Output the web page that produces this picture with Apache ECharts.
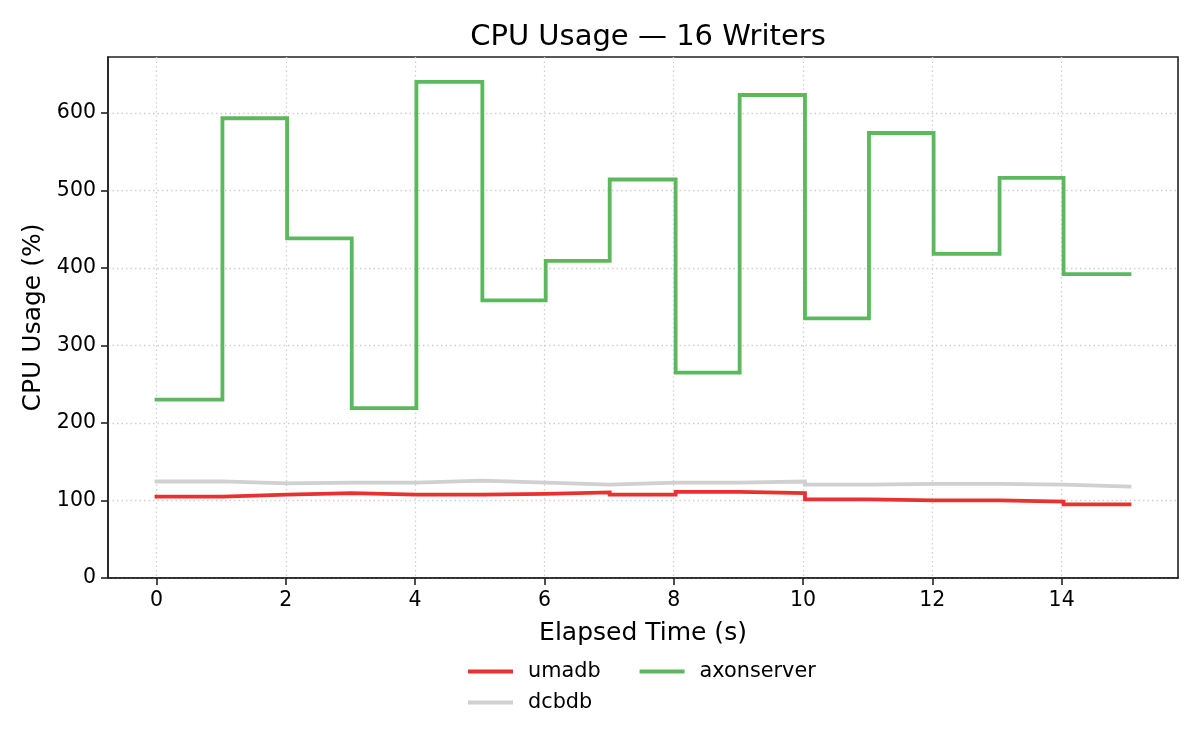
<!DOCTYPE html>
<html>
<head>
<meta charset="utf-8">
<script src="https://cdn.jsdelivr.net/npm/echarts@6/dist/echarts.min.js"></script>
<style>
  html, body { margin: 0; padding: 0; background: #fff; }
  #chart { width: 1200px; height: 750px; }
</style>
</head>
<body>
<div id="chart"></div>
<script>
// sample times (s)
var times = [0, 1.02, 2.02, 3.02, 4.02, 5.04, 6.02, 7.01, 8.03, 9.02, 10.03, 11.02, 12.02, 13.04, 14.03, 15.05];
// cpu usage (%) per store
var umadb = [105, 107.5, 109.5, 107.5, 107.5, 108.5, 110.5, 107.5, 111, 109.5, 101.5, 100, 100, 98.5, 95, 95];
var dcbdb = [124.5, 122, 123, 123, 125.5, 123, 120.5, 123, 123, 124.5, 120.5, 121.5, 121.5, 120.5, 118, 118];
var axonserver = [230, 593, 438, 219, 640, 358, 409, 514, 265, 623, 335, 574, 418, 516, 392, 392];
var xTicks = [0, 2, 4, 6, 8, 10, 12, 14];
var yTicks = [0, 100, 200, 300, 400, 500, 600];

var FONT = 'DejaVu Sans';

function pairs(vals) {
    return times.map(function (t, i) { return [t, vals[i]]; });
}
function stepSeries(name, vals, color) {
    return {
        name: name,
        type: 'line',
        step: 'end',
        showSymbol: false,
        data: pairs(vals),
        lineStyle: { color: color, width: 3.8, cap: 'square', join: 'miter' },
        itemStyle: { color: color }
    };
}

var myChart = echarts.init(document.getElementById('chart'));
var option = {
    backgroundColor: '#fff',
    animation: false,
    textStyle: { fontFamily: FONT },
    title: {
        text: 'CPU Usage — 16 Writers',
        left: 643,
        top: 18,
        textAlign: 'center',
        textStyle: { fontFamily: FONT, fontSize: 29, fontWeight: 'normal', color: '#000' }
    },
    legend: [
        {
            data: ['umadb', 'axonserver'],
            left: 468, top: 661, padding: 0,
            icon: 'rect', itemWidth: 45, itemHeight: 4, itemGap: 39,
            textStyle: { fontFamily: FONT, fontSize: 20.8, color: '#000', padding: [0, 0, 0, 10] }
        },
        {
            data: ['dcbdb'],
            left: 468, top: 692, padding: 0,
            icon: 'rect', itemWidth: 45, itemHeight: 4,
            textStyle: { fontFamily: FONT, fontSize: 20.8, color: '#000', padding: [0, 0, 0, 10] }
        }
    ],
    grid: {
        left: 108, right: 22, top: 57, bottom: 172,
        show: true, borderColor: '#222', borderWidth: 1.6,
        containLabel: false
    },
    xAxis: {
        type: 'value',
        min: -0.75, max: 15.8,
        name: 'Elapsed Time (s)',
        nameLocation: 'middle',
        nameGap: 43,
        nameTextStyle: { fontFamily: FONT, fontSize: 25, color: '#000' },
        axisLine: { show: true, onZero: false, lineStyle: { color: '#222', width: 1.6 } },
        axisTick: { show: true, length: 7, lineStyle: { color: '#222', width: 1.6 }, customValues: xTicks },
        axisLabel: { fontFamily: FONT, fontSize: 20.5, color: '#000', margin: 12, customValues: xTicks },
        splitLine: { show: true, lineStyle: { color: '#cfcfcf', width: 1.3, type: [1.5, 3] } }
    },
    yAxis: {
        type: 'value',
        min: 0, max: 672,
        name: 'CPU Usage (%)',
        nameLocation: 'middle',
        nameGap: 60,
        nameTextStyle: { fontFamily: FONT, fontSize: 25, color: '#000' },
        axisLine: { show: true, onZero: false, lineStyle: { color: '#222', width: 1.6 } },
        axisTick: { show: true, length: 7, lineStyle: { color: '#222', width: 1.6 }, customValues: yTicks },
        axisLabel: { fontFamily: FONT, fontSize: 20.5, color: '#000', margin: 12, customValues: yTicks },
        splitLine: { show: true, lineStyle: { color: '#cfcfcf', width: 1.3, type: [1.5, 3] } }
    },
    series: [
        stepSeries('umadb', umadb, '#e83232'),
        stepSeries('dcbdb', dcbdb, '#d0d0d0'),
        stepSeries('axonserver', axonserver, '#5cb85c')
    ]
};
myChart.setOption(option);
</script>
</body>
</html>
